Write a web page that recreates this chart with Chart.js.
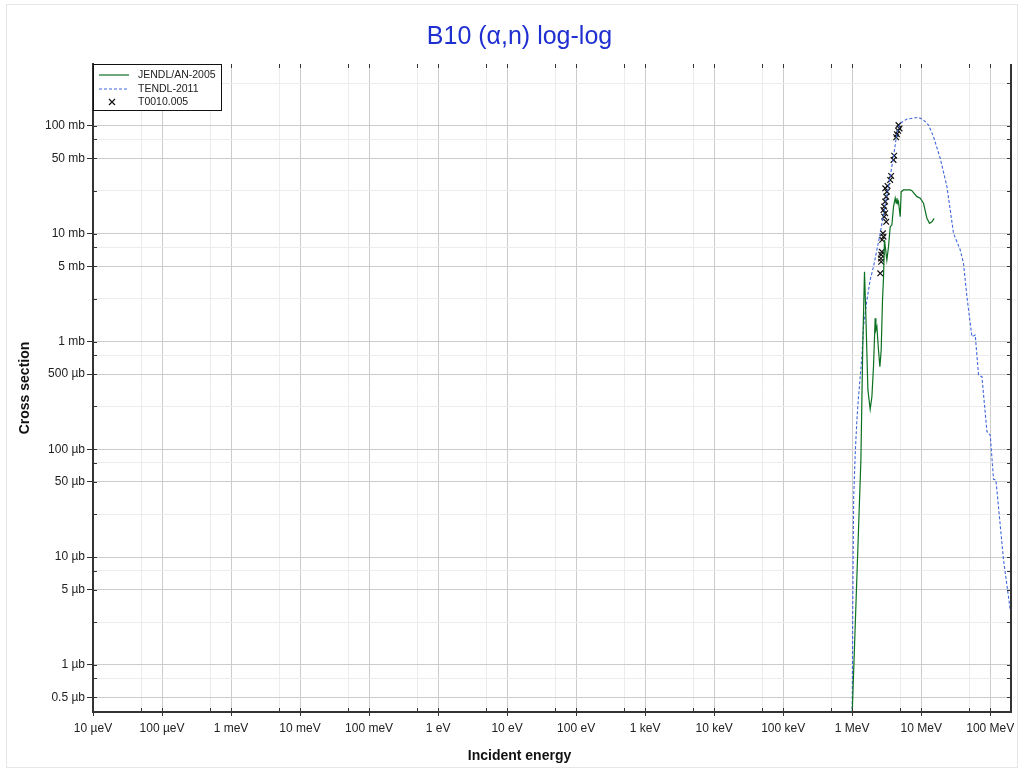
<!DOCTYPE html>
<html>
<head>
<meta charset="utf-8">
<script src="https://cdn.jsdelivr.net/npm/chart.js@4.4.1/dist/chart.umd.min.js"></script>
<style>
  html, body { margin: 0; padding: 0; background: #fff; }
  #wrap { position: relative; width: 1024px; height: 773px; }
  #frame { position: absolute; left: 6px; top: 4px; width: 1010px; height: 762px; border: 1px solid #e6e6e6; }
  canvas { position: absolute; left: 0; top: 0; }
</style>
</head>
<body>
<div id="wrap"><div id="frame"></div><canvas id="chart" width="1024" height="773"></canvas></div>
<script>
// energies in MeV, cross sections in mb
const jendlEnergy = [1.0, 1.337, 1.42, 1.508, 1.58, 1.689, 1.823, 1.93, 2.035, 2.154, 2.206, 2.28, 2.405, 2.52,
    2.632, 2.749, 2.842, 2.938, 3.18, 3.357, 3.553, 3.762, 3.968, 4.2, 4.34, 4.444, 4.595, 4.688, 4.963,
    5.13, 5.54, 6.93, 7.33, 8.66, 9.67, 10.8, 12.1, 13.2, 14.3, 15.4];
const jendlXs = [0.00035, 0.0798, 0.836, 4.45, 1.70, 0.356, 0.2355, 0.308, 0.585, 1.644, 1.282, 1.375, 0.836, 0.585,
    0.836, 2.43, 3.87, 8.76, 5.71, 7.59, 11.6, 12.1, 17.8, 21.4, 19.2, 21.4, 19.2, 19.9, 14.4,
    24.6, 25.5, 25.5, 25.1, 22.1, 21.4, 19.2, 13.9, 12.5, 12.9, 13.9];

const tendlEnergy = [1.0, 1.023, 1.05, 1.105, 1.17, 1.234, 1.382, 1.458, 1.633, 1.823, 2.035, 2.546, 3.357, 3.968,
    4.444, 4.963, 6.205, 9.14, 10.8, 12.76, 15.08, 18.85, 23.58, 29.38, 36.75, 41.0, 45.95, 54.3, 60.6,
    67.7, 75.8, 89.6, 100, 111.6, 120.9, 155.9, 195];
const tendlXs = [0.00035, 0.0047, 0.035, 0.09, 0.1875, 0.306, 0.724, 1.375, 2.43, 3.73, 4.95, 10.1, 27.4, 51.9,
    85.6, 105.9, 116, 120.4, 113.7, 102.2, 79.6, 50.2, 27.4, 10.1, 7.08, 5.33, 2.61, 1.111, 1.151,
    0.490, 0.4726, 0.146, 0.136, 0.0528, 0.052, 0.00942, 0.00324];

const exforEnergy = [4.69, 4.85, 4.64, 4.44, 4.34, 4.06, 3.97, 3.67, 3.55, 3.25, 3.01, 3.18, 3.11, 3.01,
    2.91, 2.84, 3.01, 2.91, 3.11, 2.79, 2.84, 2.72, 2.69, 2.63, 2.61, 2.63, 2.55];
const exforXs = [102, 95, 90.4, 84, 78.6, 53, 48.4, 34.4, 31.6, 27.8, 26.4, 24.6, 22.1, 19.9,
    17.9, 16.6, 15.5, 14.4, 12.9, 10.1, 9.4, 8.8, 6.8, 6.4, 5.9, 5.5, 4.3];

const seriesLabels = ['JENDL/AN-2005', 'TENDL-2011', 'T0010.005'];

const energyTicks = [1e-11, 1e-10, 1e-9, 1e-8, 1e-7, 1e-6, 1e-5, 1e-4, 1e-3, 1e-2, 1e-1, 1, 10, 100];
const energyTickLabels = ['10 µeV', '100 µeV', '1 meV', '10 meV', '100 meV', '1 eV', '10 eV', '100 eV',
    '1 keV', '10 keV', '100 keV', '1 MeV', '10 MeV', '100 MeV'];
const energyMinorTicks = [5e-11, 5e-10, 5e-9, 5e-8, 5e-7, 5e-6, 5e-5, 5e-4, 5e-3, 5e-2, 0.5, 5, 50];

const xsTicks = [100, 50, 10, 5, 1, 0.5, 0.1, 0.05, 0.01, 0.005, 0.001, 0.0005];
const xsTickLabels = ['100 mb', '50 mb', '10 mb', '5 mb', '1 mb', '500 µb', '100 µb', '50 µb',
    '10 µb', '5 µb', '1 µb', '0.5 µb'];
const xsMinorTicks = [250, 75, 25, 7.5, 2.5, 0.75, 0.25, 0.075, 0.025, 0.0075, 0.0025, 0.00075];

const toPoints = (xs, ys) => xs.map((x, i) => ({ x, y: ys[i] }));

function setTicks(majors, minors) {
    return scale => {
        const all = majors.map(v => ({ value: v, major: true }))
            .concat(minors.map(v => ({ value: v, major: false })))
            .filter(t => t.value >= scale.min && t.value <= scale.max);
        all.sort((a, b) => a.value - b.value);
        scale.ticks = all;
    };
}

function tickLabel(majors, labels) {
    return value => {
        const i = majors.indexOf(value);
        return i >= 0 ? labels[i] : '';
    };
}

const gridColor = ctx => (ctx.tick && ctx.tick.major ? '#cccccc' : '#ececec');
const tickColor = ctx => (ctx.tick && ctx.tick.major ? '#333333' : 'rgba(0,0,0,0)');

// right frame, inner tick marks and legend box
const framePlugin = {
    id: 'frameAndLegend',
    afterDraw(chart) {
        const { ctx, chartArea: a, scales } = chart;
        ctx.save();
        ctx.strokeStyle = '#333';
        ctx.lineWidth = 2;
        ctx.beginPath();
        ctx.moveTo(a.right, a.top);
        ctx.lineTo(a.right, a.bottom);
        ctx.stroke();

        ctx.lineWidth = 1;
        ctx.beginPath();
        scales.y.ticks.forEach(t => {
            const y = Math.round(scales.y.getPixelForValue(t.value)) + 0.5;
            ctx.moveTo(a.left, y); ctx.lineTo(a.left + 4, y);
            ctx.moveTo(a.right - 4, y); ctx.lineTo(a.right, y);
        });
        scales.x.ticks.forEach(t => {
            const x = Math.round(scales.x.getPixelForValue(t.value)) + 0.5;
            ctx.moveTo(x, a.bottom); ctx.lineTo(x, a.bottom - 4);
            ctx.moveTo(x, a.top); ctx.lineTo(x, a.top + 4);
        });
        ctx.stroke();

        // legend
        const lx = a.left + 0.5, ly = a.top + 0.5, lw = 128, lh = 46;
        ctx.fillStyle = '#fff';
        ctx.fillRect(lx, ly, lw, lh);
        ctx.strokeStyle = '#111';
        ctx.strokeRect(lx, ly, lw, lh);
        ctx.font = '10.5px "Liberation Sans", Arial, sans-serif';
        ctx.textBaseline = 'middle';
        const rows = [11, 25, 38];
        chart.data.datasets.forEach((d, i) => {
            const y = a.top + rows[i];
            ctx.strokeStyle = d.borderColor;
            ctx.lineWidth = 1.2;
            if (i < 2) {
                ctx.setLineDash(d.borderDash || []);
                ctx.beginPath();
                ctx.moveTo(a.left + 6, y); ctx.lineTo(a.left + 36, y);
                ctx.stroke();
                ctx.setLineDash([]);
            } else {
                ctx.beginPath();
                ctx.moveTo(a.left + 16, y - 3); ctx.lineTo(a.left + 22, y + 3);
                ctx.moveTo(a.left + 22, y - 3); ctx.lineTo(a.left + 16, y + 3);
                ctx.stroke();
            }
            ctx.fillStyle = '#222';
            ctx.fillText(d.label, a.left + 45, y);
        });
        ctx.restore();
    }
};

Chart.defaults.font.family = '"Liberation Sans", Arial, sans-serif';
Chart.defaults.color = '#222';

new Chart(document.getElementById('chart'), {
    type: 'line',
    data: {
        datasets: [
            {
                label: seriesLabels[0],
                data: toPoints(jendlEnergy, jendlXs),
                borderColor: '#0b7020',
                borderWidth: 1.2,
                pointRadius: 0,
                tension: 0,
            },
            {
                label: seriesLabels[1],
                data: toPoints(tendlEnergy, tendlXs),
                borderColor: '#3f66dd',
                borderWidth: 1.1,
                borderDash: [3, 2],
                pointRadius: 0,
                tension: 0,
            },
            {
                label: seriesLabels[2],
                data: toPoints(exforEnergy, exforXs),
                showLine: false,
                borderColor: '#111',
                backgroundColor: '#111',
                borderWidth: 1.2,
                pointStyle: 'crossRot',
                pointRadius: 4,
            },
        ],
    },
    options: {
        responsive: false,
        animation: false,
        devicePixelRatio: 1,
        layout: { padding: { left: 28, right: 13, top: 0, bottom: 0 } },
        plugins: {
            legend: { display: false },
            tooltip: { enabled: false },
            title: {
                display: true,
                text: 'B10 (α,n) log-log',
                color: '#1f2fd0',
                font: { size: 25, weight: 'normal' },
                padding: { top: 22, bottom: 12 },
            },
            subtitle: {
                display: true,
                position: 'bottom',
                text: 'Incident energy',
                color: '#111',
                font: { size: 14, weight: 'bold' },
                padding: { top: 0, bottom: 8.6 },
            },
        },
        scales: {
            x: {
                type: 'logarithmic',
                min: 1e-11,
                max: 200,
                afterBuildTicks: setTicks(energyTicks, energyMinorTicks),
                afterFit: scale => { scale.height = 35.6; },
                ticks: {
                    autoSkip: false,
                    maxRotation: 0,
                    padding: 5,
                    color: '#222',
                    font: { size: 12 },
                    callback: tickLabel(energyTicks, energyTickLabels),
                },
                grid: { color: gridColor, tickColor: tickColor, tickLength: 4, lineWidth: 1 },
                border: { display: true, color: '#333', width: 2 },
            },
            y: {
                type: 'logarithmic',
                min: 3.66e-4,
                max: 376,
                afterBuildTicks: setTicks(xsTicks, xsMinorTicks),
                afterFit: scale => { scale.width = 65; },
                ticks: {
                    autoSkip: false,
                    padding: 2,
                    color: '#222',
                    font: { size: 12 },
                    callback: tickLabel(xsTicks, xsTickLabels),
                },
                grid: { color: gridColor, tickColor: tickColor, tickLength: 6, lineWidth: 1 },
                border: { display: true, color: '#333', width: 2 },
                title: {
                    display: true,
                    text: 'Cross section',
                    font: { size: 14, weight: 'bold' },
                    color: '#111',
                    padding: { top: -11.4, bottom: 0 },
                },
            },
        },
    },
    plugins: [framePlugin],
});
</script>
</body>
</html>
